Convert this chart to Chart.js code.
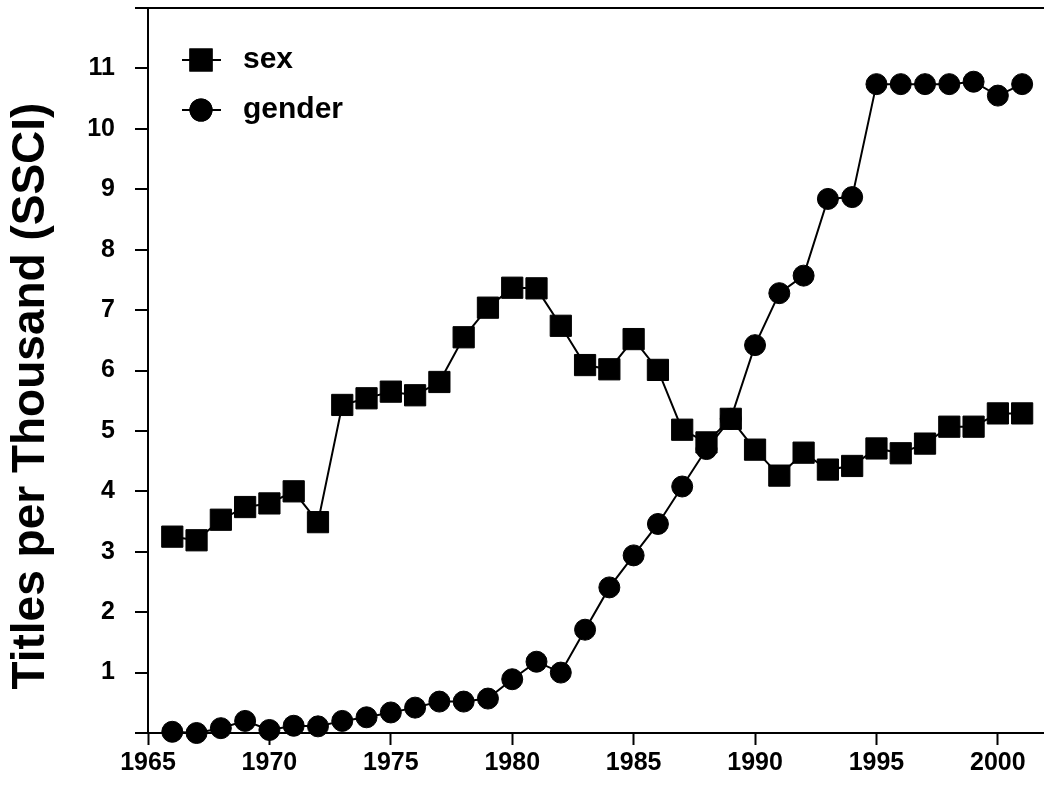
<!DOCTYPE html>
<html>
<head>
<meta charset="utf-8">
<script src="https://cdn.jsdelivr.net/npm/chart.js@4/dist/chart.umd.min.js"></script>
<style>
  html, body { margin: 0; padding: 0; background: #fff; overflow: hidden; }
  #wrap { width: 1044px; height: 786px; }
</style>
</head>
<body>
<div id="wrap"><canvas id="chart" width="1044" height="786"></canvas></div>
<script>
const FONT = "'Liberation Sans', Arial, Helvetica, sans-serif";

const years = [1966, 1967, 1968, 1969, 1970, 1971, 1972, 1973, 1974, 1975, 1976, 1977,
  1978, 1979, 1980, 1981, 1982, 1983, 1984, 1985, 1986, 1987, 1988, 1989,
  1990, 1991, 1992, 1993, 1994, 1995, 1996, 1997, 1998, 1999, 2000, 2001];

const sexValues = [3.25, 3.19, 3.53, 3.74, 3.80, 4.00, 3.49, 5.43, 5.54, 5.65, 5.59, 5.81,
  6.55, 7.04, 7.37, 7.36, 6.74, 6.09, 6.02, 6.52, 6.01, 5.02, 4.81, 5.20,
  4.69, 4.26, 4.64, 4.36, 4.42, 4.71, 4.63, 4.79, 5.07, 5.07, 5.29, 5.29];

const genderValues = [0.02, 0.00, 0.08, 0.20, 0.05, 0.12, 0.11, 0.20, 0.26, 0.34, 0.42, 0.52,
  0.52, 0.57, 0.89, 1.18, 1.00, 1.71, 2.41, 2.94, 3.46, 4.08, 4.70, 5.20,
  6.42, 7.28, 7.57, 8.84, 8.87, 10.74, 10.74, 10.74, 10.74, 10.78, 10.55, 10.74];

const seriesLabels = ['sex', 'gender'];
// trailing spaces nudge the centred title a bit lower, as in the original
const yTitle = 'Titles per Thousand (SSCI)    ';

const toPoints = vals => years.map((yr, i) => ({x: yr, y: vals[i]}));

// legend drawn inside the plot: marker with a short line through it
const insideLegend = {
  id: 'insideLegend',
  afterDraw(chart) {
    const {ctx, chartArea} = chart;
    ctx.save();
    chart.data.datasets.forEach((ds, i) => {
      const cx = chartArea.left + 53;
      const cy = chartArea.top + 52 + i * 50;
      ctx.strokeStyle = '#000';
      ctx.lineWidth = 2;
      ctx.beginPath();
      ctx.moveTo(cx - 19, cy);
      ctx.lineTo(cx + 20, cy);
      ctx.stroke();
      ctx.fillStyle = '#000';
      Chart.helpers.drawPoint(ctx, {
        pointStyle: ds.pointStyle,
        radius: ds.pointRadius,
        borderWidth: ds.pointBorderWidth,
        rotation: 0
      }, cx, cy);
      ctx.fill();
      ctx.stroke();
      ctx.font = 'bold 30px ' + FONT;
      ctx.textBaseline = 'middle';
      ctx.textAlign = 'left';
      ctx.fillText(ds.label, cx + 42, cy);
    });
    ctx.restore();
  }
};

new Chart(document.getElementById('chart'), {
  type: 'line',
  data: {
    datasets: [{
      label: seriesLabels[0],
      data: toPoints(sexValues),
      borderColor: '#000',
      borderWidth: 2,
      backgroundColor: '#000',
      pointStyle: 'rect',
      pointRadius: 15,
      pointBorderWidth: 1,
      pointBackgroundColor: '#000',
      pointBorderColor: '#000',
      tension: 0,
      clip: false
    }, {
      label: seriesLabels[1],
      data: toPoints(genderValues),
      borderColor: '#000',
      borderWidth: 2,
      backgroundColor: '#000',
      pointStyle: 'circle',
      pointRadius: 10.5,
      pointBorderWidth: 1,
      pointBackgroundColor: '#000',
      pointBorderColor: '#000',
      tension: 0,
      clip: false
    }]
  },
  options: {
    responsive: false,
    animation: false,
    events: [],
    layout: {
      autoPadding: false,
      padding: {left: 0, right: 0, top: 8, bottom: 0}
    },
    plugins: {
      legend: {display: false},
      tooltip: {enabled: false}
    },
    scales: {
      x: {
        type: 'linear',
        min: 1965,
        max: 2001.9,
        afterFit: scale => {
          scale.height = 53;
          scale.paddingLeft = 0;
          scale.paddingRight = 0;
        },
        border: {display: true, color: '#000', width: 2},
        grid: {
          drawOnChartArea: false,
          tickLength: 12,
          tickColor: '#000',
          tickWidth: 2
        },
        ticks: {
          stepSize: 5,
          includeBounds: false,
          padding: 3,
          color: '#000',
          maxRotation: 0,
          font: {family: FONT, size: 25, weight: 'bold'},
          callback: v => String(v)
        }
      },
      y: {
        min: 0,
        max: 12,
        afterFit: scale => {
          scale.width = 148;
          scale.paddingTop = 0;
          scale.paddingBottom = 0;
        },
        border: {display: true, color: '#000', width: 2},
        grid: {
          drawOnChartArea: true,
          color: c => (c.tick && c.tick.value === 12) ? '#000' : 'rgba(0,0,0,0)',
          lineWidth: 2,
          tickLength: 13,
          tickColor: '#000',
          tickWidth: 2
        },
        ticks: {
          stepSize: 1,
          padding: 20,
          color: '#000',
          font: {family: FONT, size: 25, weight: 'bold'},
          callback: v => (v === 0 || v === 12) ? '' : String(v)
        },
        title: {
          display: true,
          text: yTitle,
          color: '#000',
          padding: {top: 4, bottom: 0},
          font: {family: FONT, size: 46, weight: 'bold'}
        }
      }
    }
  },
  plugins: [insideLegend]
});
</script>
</body>
</html>
